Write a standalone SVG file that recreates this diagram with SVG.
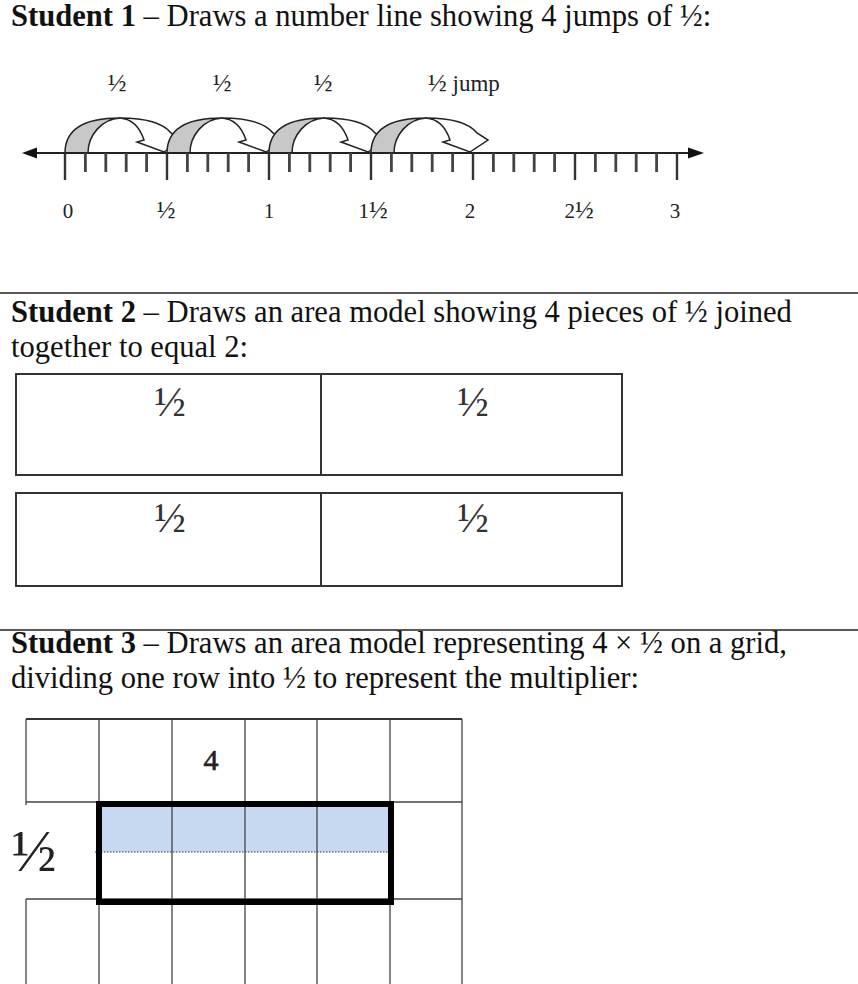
<svg xmlns="http://www.w3.org/2000/svg" xmlns:xlink="http://www.w3.org/1999/xlink" width="858" height="984" viewBox="0 0 858 984">
<style>
.hd{font-family:"Liberation Serif","Times New Roman",serif;font-size:30.6px;fill:#111}
.hd .b{font-weight:bold}
.nl{font-family:"Liberation Serif","Times New Roman",serif;font-size:21px;fill:#222}
.nl .h{font-size:25px}
.sep{stroke:#222;stroke-width:1.5}
.box{fill:none;stroke:#333;stroke-width:2}
.frac{font-family:"Liberation Serif","Times New Roman",serif;font-size:42px;fill:#333;text-anchor:middle}
.grid{stroke:#444;stroke-width:1.3;fill:none}
</style>
<defs>
<g id="jump">
<path d="M55,-35 C80,-35 98,-30 106,-20 L117,-13 L99,-1 L72,-11 L79,-13 C75,-25 67,-34 55,-35 Z" fill="#fff" stroke="#222" stroke-width="1.5" stroke-linejoin="miter"/>
<path d="M0,0 C0,-24 20,-35 55,-35 C37,-34 23,-18 23,0 Z" fill="#c8c8c8" stroke="#222" stroke-width="1.5"/>
</g>
</defs>
<rect width="858" height="984" fill="#fff"/>

<g id="student1">
<text class="hd" x="11" y="26"><tspan class="b">Student 1</tspan> – Draws a number line showing 4 jumps of ½:</text>
<g id="numberline">
<g id="jumps">
<use xlink:href="#jump" transform="translate(65,153)"/>
<use xlink:href="#jump" transform="translate(167,153)"/>
<use xlink:href="#jump" transform="translate(269,153)"/>
<use xlink:href="#jump" transform="translate(371,153)"/>
</g>
<line x1="30" y1="153" x2="692" y2="153" stroke="#222" stroke-width="2"/>
<polygon points="22,153 37,147.5 37,158.5" fill="#111"/>
<polygon points="704,153 688,147.5 688,158.5" fill="#111"/>
<path d="M65,153V180M167,153V180M269,153V180M371,153V180M473,153V180M575,153V180M677,153V180" stroke="#333" stroke-width="2.4"/>
<path d="M85.4,153V172M105.8,153V172M126.2,153V172M146.6,153V172M187.4,153V172M207.8,153V172M228.2,153V172M248.6,153V172M289.4,153V172M309.8,153V172M330.2,153V172M350.6,153V172M391.4,153V172M411.8,153V172M432.2,153V172M452.6,153V172M493.4,153V172M513.8,153V172M534.2,153V172M554.6,153V172M595.4,153V172M615.8,153V172M636.2,153V172M656.6,153V172" stroke="#444" stroke-width="2.8"/>
<g class="nl" text-anchor="middle">
<text x="117" y="91"><tspan class="h">½</tspan></text>
<text x="222" y="91"><tspan class="h">½</tspan></text>
<text x="323" y="91"><tspan class="h">½</tspan></text>
<text x="68" y="218">0</text>
<text x="166" y="218"><tspan class="h">½</tspan></text>
<text x="269" y="218">1</text>
<text x="373" y="218">1<tspan class="h">½</tspan></text>
<text x="470" y="218">2</text>
<text x="579" y="218">2<tspan class="h">½</tspan></text>
<text x="675" y="218">3</text>
</g>
<text class="nl" x="428" y="91"><tspan class="h">½</tspan><tspan font-size="23"> jump</tspan></text>
</g>
</g>

<line class="sep" x1="0" y1="293" x2="858" y2="293"/>

<g id="student2">
<text class="hd" x="11" y="322"><tspan class="b">Student 2</tspan> – Draws an area model showing 4 pieces of ½ joined</text>
<text class="hd" x="11" y="357">together to equal 2:</text>
<g id="box1">
<rect class="box" x="16" y="374" width="606" height="101"/>
<line class="box" x1="321" y1="374" x2="321" y2="475"/>
<text class="frac" x="170" y="416">½</text>
<text class="frac" x="473" y="416">½</text>
</g>
<g id="box2">
<rect class="box" x="16" y="493" width="606" height="93"/>
<line class="box" x1="321" y1="493" x2="321" y2="586"/>
<text class="frac" x="170" y="532">½</text>
<text class="frac" x="473" y="532">½</text>
</g>
</g>

<line class="sep" x1="0" y1="630" x2="858" y2="630"/>

<g id="student3">
<text class="hd" x="11" y="653"><tspan class="b">Student 3</tspan> – Draws an area model representing 4 × ½ on a grid,</text>
<text class="hd" x="11" y="688">dividing one row into ½ to represent the multiplier:</text>
<g id="grid">
<rect x="101" y="806" width="288" height="46" fill="#c6d9f0"/>
<line x1="95" y1="852" x2="388" y2="852" stroke="#333" stroke-width="1" stroke-dasharray="1.5,1.5"/>
<path class="grid" d="M26,719H462M26,802H462M26,899H462M26,719V805M26,899V984M462,719V984M99,719V984M172,719V984M245,719V984M317,719V984M390,719V984"/>
<line x1="26" y1="719" x2="462" y2="719" stroke="#333" stroke-width="2"/>
<rect x="99" y="804" width="292" height="98" fill="none" stroke="#000" stroke-width="6"/>
<text x="211" y="770" font-family="Liberation Serif, Times New Roman, serif" font-size="30" fill="#222" stroke="#222" stroke-width="0.6" text-anchor="middle">4</text>
<text x="34" y="871" font-family="Liberation Serif, Times New Roman, serif" font-size="60" fill="#222" text-anchor="middle">½</text>
</g>
</g>
</svg>
